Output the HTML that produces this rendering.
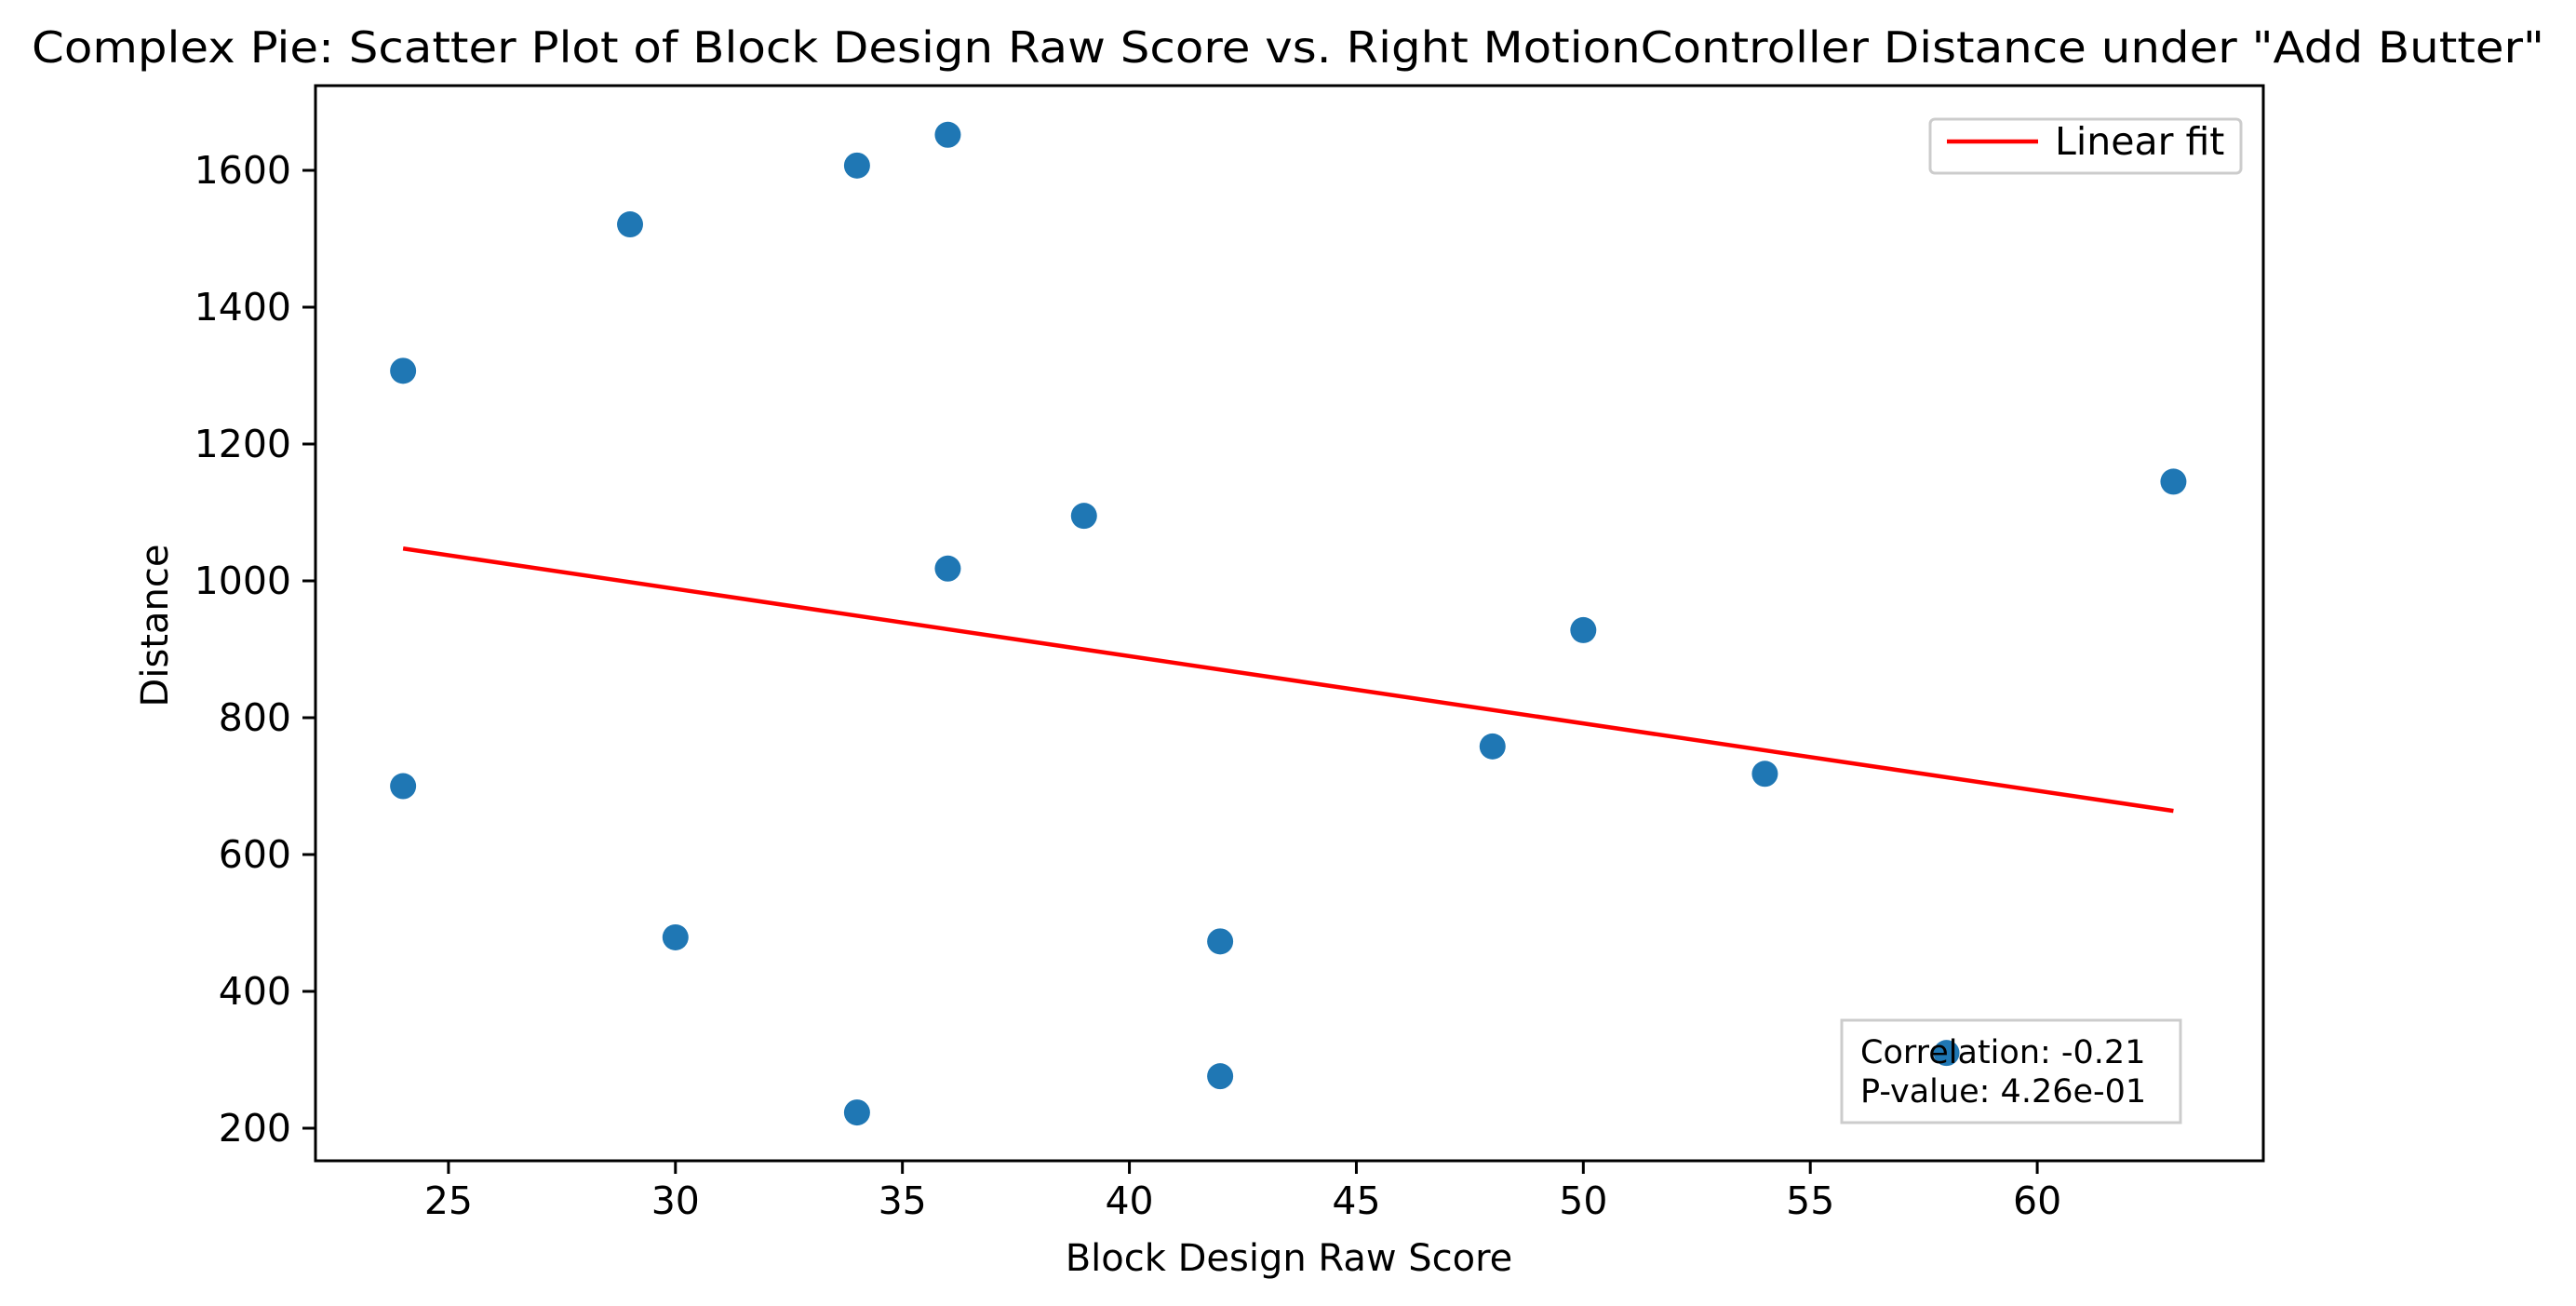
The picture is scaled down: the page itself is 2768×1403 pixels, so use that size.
<!DOCTYPE html>
<html><head><meta charset="utf-8"><style>
html,body{margin:0;padding:0;background:#fff;}
svg{display:block;font-family:"DejaVu Sans","Liberation Sans",sans-serif;}
</style></head><body>
<svg id="chart" width="2768" height="1403" viewBox="0 0 2768 1403" xmlns="http://www.w3.org/2000/svg">
<rect width="2768" height="1403" fill="#fff"/>
<text x="1384" y="67" font-size="46" text-anchor="middle" textLength="2700" lengthAdjust="spacingAndGlyphs">Complex Pie: Scatter Plot of Block Design Raw Score vs. Right MotionController Distance under "Add Butter"</text>
<g id="plot"></g>
<text x="1385" y="1365" font-size="40" text-anchor="middle">Block Design Raw Score</text>
<text x="0" y="0" font-size="40" text-anchor="middle" transform="translate(180,672) rotate(-90)">Distance</text>
</svg>
<script>
const xs = [24, 24, 29, 30, 34, 34, 36, 36, 39, 42, 42, 48, 50, 54, 58, 63];
const ys = [1307, 700, 1521, 479, 1607, 223, 1652, 1018, 1095, 473, 276, 758, 928, 718, 310, 1145];
const xTicks = [25, 30, 35, 40, 45, 50, 55, 60];
const yTicks = [200, 400, 600, 800, 1000, 1200, 1400, 1600];
const statsLines = ["Correlation: -0.21", "P-value: 4.26e-01"];

const L=339, R=2432, T=92, B=1247;
const xMin=22.07, xMax=64.98, yMin=152.4, yMax=1723.8;
function sx(v){return L+(v-xMin)/(xMax-xMin)*(R-L);}
function sy(v){return B-(v-yMin)/(yMax-yMin)*(B-T);}
const NS="http://www.w3.org/2000/svg";
const g=document.getElementById('plot');
function mk(tag,attrs,parent){const e=document.createElementNS(NS,tag);for(const k in attrs)e.setAttribute(k,attrs[k]);(parent||g).appendChild(e);return e;}

// stats box background (drawn under points)
const sb=mk('g',{});


mk('rect',{x:1979,y:1096,width:364,height:110,fill:'#fff',stroke:'#cccccc','stroke-width':3},sb);

// points
xs.forEach((x,i)=>{
  const c=mk('circle',{cx:sx(x),cy:sy(ys[i]),r:14,fill:'#1f77b4'});
  
  
});
// linear fit
const n=xs.length;
const mx=xs.reduce((a,b)=>a+b,0)/n, my=ys.reduce((a,b)=>a+b,0)/n;
let sxy=0,sxx=0;xs.forEach((x,i)=>{sxy+=(x-mx)*(ys[i]-my);sxx+=(x-mx)*(x-mx);});
const slope=sxy/sxx, icp=my-slope*mx;
const x0=Math.min(...xs), x1=Math.max(...xs);
const fit=mk('line',{x1:sx(x0),y1:sy(icp+slope*x0),x2:sx(x1),y2:sy(icp+slope*x1),stroke:'#ff0000','stroke-width':4.5});



// stats text over points
statsLines.forEach((s,i)=>{
  const t=mk('text',{x:1999,y:1142+i*42,'font-size':35});
  t.textContent=s;
  
  
});

// axes frame
const frame=mk('rect',{x:L,y:T,width:R-L,height:B-T,fill:'none',stroke:'#000','stroke-width':3});



xTicks.forEach(t=>{
  const tk=mk('line',{x1:sx(t),x2:sx(t),y1:B,y2:B+14,stroke:'#000','stroke-width':3});
  
  
  const lb=mk('text',{x:sx(t),y:B+57,'font-size':41,'text-anchor':'middle'});
  lb.textContent=t;
  
  
});
yTicks.forEach(t=>{
  const tk=mk('line',{x1:L-14,x2:L,y1:sy(t),y2:sy(t),stroke:'#000','stroke-width':3});
  
  
  const lb=mk('text',{x:L-26,y:sy(t)+14,'font-size':41,'text-anchor':'end'});
  lb.textContent=t;
  
  
});

// legend
const lg=mk('g',{});


mk('rect',{x:2074,y:128,width:334,height:58,rx:5,fill:'#fff','fill-opacity':0.8,stroke:'#cccccc','stroke-width':3},lg);
const ll=mk('line',{x1:2092,x2:2190,y1:152,y2:152,stroke:'#ff0000','stroke-width':4.5},lg);


const lt=mk('text',{x:2208,y:166,'font-size':41},lg);
lt.textContent='Linear fit';


</script>
</body></html>
